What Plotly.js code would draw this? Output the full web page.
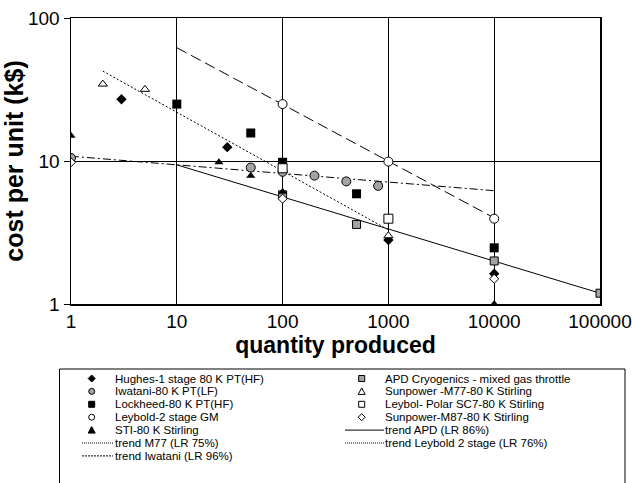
<!DOCTYPE html>
<html>
<head>
<meta charset="utf-8">
<script src="https://cdn.plot.ly/plotly-3.0.1.min.js"></script>
<style>html,body{margin:0;padding:0;background:#fff;}#chart{width:632px;height:483px;}</style>
</head>
<body>
<div id="chart"></div>
<script>
// ---------- data ----------
const tickValsX = [1, 10, 100, 1000, 10000, 100000];
const tickTextX = ['1', '10', '100', '1000', '10000', '100000'];
const tickValsY = [1, 10, 100];
const tickTextY = ['1', '10', '100'];

const hughesQ = [3, 30, 1000, 10000];
const hughesC = [27, 12.5, 2.8, 1.63];
const iwataniQ = [1, 50, 100, 200, 400, 800];
const iwataniC = [10.5, 9.0, 8.4, 7.9, 7.2, 6.7];
const lockheedQ = [10, 50, 100, 500, 10000];
const lockheedC = [25, 15.7, 9.8, 5.9, 2.47];
const leyboldGMQ = [100, 1000, 10000];
const leyboldGMC = [25, 9.9, 3.95];
const stiQ = [1, 25, 50, 100, 10000];
const stiC = [15, 9.8, 7.9, 6.1, 1.0];
const apdQ = [100, 500, 10000, 100000];
const apdC = [5.8, 3.6, 2.0, 1.19];
const m77Q = [2, 5, 1000];
const m77C = [34.5, 31.7, 3.0];
const polarQ = [100, 1000];
const polarC = [8.9, 3.95];
const m87Q = [1, 100, 10000];
const m87C = [9.8, 5.45, 1.5];

const trendAPDQ = [10, 100000];
const trendAPDC = [9.4, 1.19];
const trendM77Q = [2, 1000];
const trendM77C = [42.5, 3.3];
const trendLeyQ = [10, 10000];
const trendLeyC = [62, 4.0];
const trendIwaQ = [1, 10000];
const trendIwaC = [10.8, 6.2];

const names = {
  hughes: 'Hughes-1 stage 80 K PT(HF)',
  iwatani: 'Iwatani-80 K PT(LF)',
  lockheed: 'Lockheed-80 K PT(HF)',
  leyboldGM: 'Leybold-2 stage GM',
  sti: 'STI-80 K Stirling',
  apd: 'APD Cryogenics - mixed gas throttle',
  m77: 'Sunpower -M77-80 K Stirling',
  polar: 'Leybol- Polar SC7-80 K Stirling',
  m87: 'Sunpower-M87-80 K Stirling',
  tAPD: 'trend APD (LR 86%)',
  tLey: 'trend Leybold 2 stage (LR 76%)',
  tM77: 'trend M77 (LR 75%)',
  tIwa: 'trend Iwatani (LR 96%)'
};

// ---------- styles ----------
const GRAY = '#a3a3a3';
const FONT = 'Liberation Sans, Arial, sans-serif';
const black = {color: '#000', width: 1};

function pts(x, y, name, marker) {
  return {x: x, y: y, name: name, type: 'scatter', mode: 'markers', marker: marker, showlegend: false, hoverinfo: 'x+y+name'};
}
function trend(x, y, name, dash) {
  return {x: x, y: y, name: name, type: 'scatter', mode: 'lines', line: {color: '#000', width: 1, dash: dash}, showlegend: false};
}

const DASH_M77 = '2px,2px';
const DASH_LEY = '11px,5px';
const DASH_IWA = '8px,3px,2px,3px';

const traces = [
  trend(trendAPDQ, trendAPDC, names.tAPD, 'solid'),
  trend(trendM77Q, trendM77C, names.tM77, DASH_M77),
  trend(trendLeyQ, trendLeyC, names.tLey, DASH_LEY),
  trend(trendIwaQ, trendIwaC, names.tIwa, DASH_IWA),
  pts(hughesQ, hughesC, names.hughes, {symbol: 'diamond', size: 8, color: '#000'}),
  pts(iwataniQ, iwataniC, names.iwatani, {symbol: 'circle', size: 9, color: GRAY, line: black}),
  pts(lockheedQ, lockheedC, names.lockheed, {symbol: 'square', size: 9, color: '#000'}),
  pts(leyboldGMQ, leyboldGMC, names.leyboldGM, {symbol: 'circle', size: 9, color: '#fff', line: black}),
  pts(apdQ, apdC, names.apd, {symbol: 'square', size: 8, color: GRAY, line: black}),
  pts(stiQ, stiC, names.sti, {symbol: 'triangle-up', size: 8, color: '#000'}),
  pts(m77Q, m77C, names.m77, {symbol: 'triangle-up', size: 8, color: '#fff', line: black}),
  pts(polarQ, polarC, names.polar, {symbol: 'square', size: 9, color: '#fff', line: black}),
  pts(m87Q, m87C, names.m87, {symbol: 'diamond', size: 7, color: '#fff', line: black})
];

// ---------- hand-built legend (paper coords from pixel positions) ----------
const PL = 71, PR = 600, PT = 18, PB = 304;
const px2x = px => (px - PL) / (PR - PL);
const py2y = py => (PB - py) / (PB - PT);

const shapes = [];
const annotations = [];

shapes.push({type: 'rect', xref: 'paper', yref: 'paper', x0: px2x(59.5), x1: px2x(625), y0: py2y(369), y1: py2y(530), line: {color: '#000', width: 1}, fillcolor: 'rgba(0,0,0,0)'});

function sym(kind, fill, cx, cy) {
  const base = {xref: 'paper', yref: 'paper', xsizemode: 'pixel', ysizemode: 'pixel', xanchor: px2x(cx), yanchor: py2y(cy), fillcolor: fill, line: {color: '#000', width: 1}};
  if (kind === 'circle') return Object.assign(base, {type: 'circle', x0: -3, x1: 3, y0: -3, y1: 3});
  if (kind === 'square') return Object.assign(base, {type: 'rect', x0: -3, x1: 3, y0: -3, y1: 3});
  if (kind === 'diamond') return Object.assign(base, {type: 'path', path: 'M0,3.5 L3.5,0 L0,-3.5 L-3.5,0 Z'});
  if (kind === 'triangle') return Object.assign(base, {type: 'path', path: 'M-3.5,-3 L3.5,-3 L0,3.5 Z'});
}
function lineSample(dash, xa, xb, cy) {
  return {type: 'line', xref: 'paper', yref: 'paper', x0: px2x(xa), x1: px2x(xb), y0: py2y(cy), y1: py2y(cy), line: {color: '#000', width: 1, dash: dash}};
}
function label(text, x, cy) {
  return {text: text, xref: 'paper', yref: 'paper', x: px2x(x), y: py2y(cy), xanchor: 'left', yanchor: 'middle', showarrow: false, borderpad: 0, font: {family: FONT, size: 11.5, color: '#000'}};
}

const ROW0 = 378.5, ROWH = 12.9;
const col1 = [
  ['sym', 'diamond', '#000', names.hughes],
  ['sym', 'circle', GRAY, names.iwatani],
  ['sym', 'square', '#000', names.lockheed],
  ['sym', 'circle', '#fff', names.leyboldGM],
  ['sym', 'triangle', '#000', names.sti],
  ['line', '1px,1px', null, names.tM77],
  ['line', '2px,1px', null, names.tIwa]
];
const col2 = [
  ['sym', 'square', GRAY, names.apd],
  ['sym', 'triangle', '#fff', names.m77],
  ['sym', 'square', '#fff', names.polar],
  ['sym', 'diamond', '#fff', names.m87],
  ['line', 'solid', null, names.tAPD],
  ['line', '1px,1px', null, names.tLey]
];
function buildCol(col, symX, lineA, lineB, textX) {
  col.forEach((e, i) => {
    const cy = ROW0 + i * ROWH;
    if (e[0] === 'sym') shapes.push(sym(e[1], e[2], symX, cy));
    else shapes.push(lineSample(e[1], lineA, lineB, cy));
    annotations.push(label(e[3], textX, cy));
  });
}
buildCol(col1, 91.7, 82, 113, 114);
buildCol(col2, 361.7, 345, 384, 384);

const layout = {
  width: 632, height: 483,
  margin: {l: PL, r: 632 - PR, t: PT, b: 483 - PB, pad: 0},
  paper_bgcolor: '#fff', plot_bgcolor: '#fff',
  font: {family: FONT, color: '#000'},
  showlegend: false,
  xaxis: {
    type: 'log', range: [0, 5], tickvals: tickValsX, ticktext: tickTextX,
    showgrid: true, gridcolor: '#000', gridwidth: 1, zeroline: false,
    showline: true, linecolor: '#000', linewidth: 1.5, mirror: true,
    ticks: '', tickfont: {family: FONT, size: 19, color: '#000'},
    automargin: false,
    title: {text: '<b>quantity produced</b>', font: {family: FONT, size: 23, color: '#000'}, standoff: 1}
  },
  yaxis: {
    type: 'log', range: [0, 2], tickvals: tickValsY, ticktext: tickTextY,
    showgrid: true, gridcolor: '#000', gridwidth: 1, zeroline: false,
    showline: true, linecolor: '#000', linewidth: 1.5, mirror: true,
    ticks: 'outside', ticklen: 6, tickcolor: '#000', tickwidth: 1,
    tickfont: {family: FONT, size: 19, color: '#000'},
    automargin: false,
    title: {text: '<b>cost per unit (k$)</b>', font: {family: FONT, size: 25, color: '#000'}, standoff: 0}
  },
  shapes: shapes,
  annotations: annotations
};

Plotly.newPlot('chart', traces, layout, {displayModeBar: false, staticPlot: true});
</script>
</body>
</html>
